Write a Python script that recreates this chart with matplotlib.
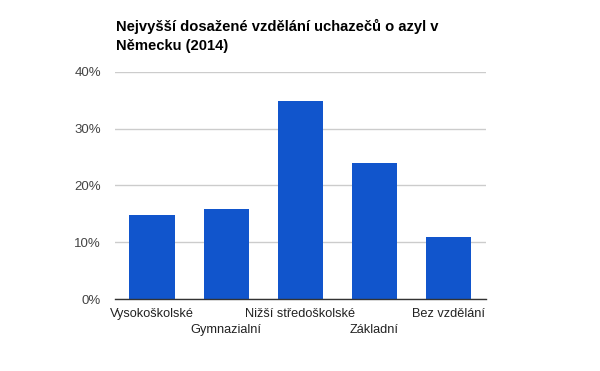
import matplotlib.pyplot as plt
from matplotlib.ticker import FuncFormatter

plt.rcParams['font.family'] = ['Liberation Sans', 'DejaVu Sans']

# Data
categories = ['Vysokoškolské', 'Gymnazialní', 'Nižší středoškolské', 'Základní', 'Bez vzdělání']
shares = [14.8, 15.9, 34.8, 24.0, 11.0]
yticks = [0, 10, 20, 30, 40]

fig = plt.figure(figsize=(6, 3.71), dpi=100)
ax = fig.add_axes([0.1917, 0.194, 0.618, 0.6126])

x = range(len(categories))
ax.bar(x, shares, width=0.61, color='#1155cc', zorder=3)

ax.set_xlim(-0.5, len(categories) - 0.5)
ax.set_ylim(0, 40)
ax.set_yticks(yticks)
ax.yaxis.set_major_formatter(FuncFormatter(lambda v, p: f'{v:.0f}%'))
ax.grid(axis='y', color='#cccccc', linewidth=1, zorder=0)

for side in ['top', 'right', 'left']:
    ax.spines[side].set_visible(False)
ax.spines['bottom'].set_color('#333333')
ax.spines['bottom'].set_linewidth(1)
ax.spines['bottom'].set_zorder(4)

ax.tick_params(axis='y', length=0, pad=10, labelsize=9.5, labelcolor='#444444')
ax.tick_params(axis='x', length=0, labelsize=9.2, labelcolor='#222222')
ax.set_xticks(list(x))
ax.set_xticklabels(categories)
for i, tick in enumerate(ax.xaxis.get_major_ticks()):
    tick.set_pad(6.5 if i % 2 == 0 else 18)

fig.text(116 / 600, 1 - 18.5 / 371, 'Nejvyšší dosažené vzdělání uchazečů o azyl v\nNěmecku (2014)',
         fontsize=10.6, fontweight='bold', va='top', ha='left', linespacing=1.5, color='#000000')

fig.savefig('out.png', dpi=100)
